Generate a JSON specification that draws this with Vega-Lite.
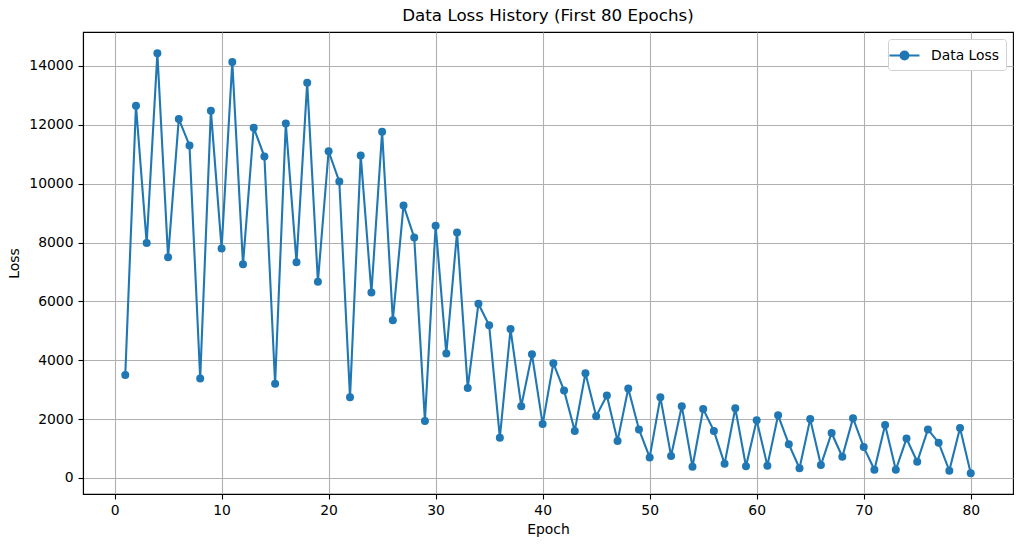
{
  "$schema": "https://vega.github.io/schema/vega-lite/v6.json",
  "width": 930,
  "height": 462,
  "autosize": {"type": "none"},
  "padding": {"left": 83, "top": 32, "right": 10, "bottom": 53},
  "background": "white",
  "config": {
    "font": "DejaVu Sans",
    "view": {"stroke": "black", "strokeWidth": 1.1},
    "axis": {
      "labelFont": "DejaVu Sans", "labelFontSize": 13.9, "labelColor": "black",
      "titleFont": "DejaVu Sans", "titleFontSize": 13.9, "titleFontWeight": "normal", "titleColor": "black",
      "domainColor": "black", "domainWidth": 1.1, "tickColor": "black", "tickSize": 5, "tickWidth": 1.1,
      "gridColor": "#b0b0b0", "gridWidth": 1.1, "gridOpacity": 1
    }
  },
  "title": {"text": "Data Loss History (First 80 Epochs)", "fontSize": 16.7, "fontWeight": "normal", "font": "DejaVu Sans", "color": "black", "offset": 7},
  "data": {"values": [
    {"epoch": 1, "loss": 3500, "series": "Data Loss"},
    {"epoch": 2, "loss": 12650, "series": "Data Loss"},
    {"epoch": 3, "loss": 7980, "series": "Data Loss"},
    {"epoch": 4, "loss": 14430, "series": "Data Loss"},
    {"epoch": 5, "loss": 7500, "series": "Data Loss"},
    {"epoch": 6, "loss": 12200, "series": "Data Loss"},
    {"epoch": 7, "loss": 11300, "series": "Data Loss"},
    {"epoch": 8, "loss": 3380, "series": "Data Loss"},
    {"epoch": 9, "loss": 12480, "series": "Data Loss"},
    {"epoch": 10, "loss": 7800, "series": "Data Loss"},
    {"epoch": 11, "loss": 14130, "series": "Data Loss"},
    {"epoch": 12, "loss": 7260, "series": "Data Loss"},
    {"epoch": 13, "loss": 11900, "series": "Data Loss"},
    {"epoch": 14, "loss": 10920, "series": "Data Loss"},
    {"epoch": 15, "loss": 3200, "series": "Data Loss"},
    {"epoch": 16, "loss": 12040, "series": "Data Loss"},
    {"epoch": 17, "loss": 7330, "series": "Data Loss"},
    {"epoch": 18, "loss": 13430, "series": "Data Loss"},
    {"epoch": 19, "loss": 6670, "series": "Data Loss"},
    {"epoch": 20, "loss": 11100, "series": "Data Loss"},
    {"epoch": 21, "loss": 10070, "series": "Data Loss"},
    {"epoch": 22, "loss": 2740, "series": "Data Loss"},
    {"epoch": 23, "loss": 10960, "series": "Data Loss"},
    {"epoch": 24, "loss": 6300, "series": "Data Loss"},
    {"epoch": 25, "loss": 11760, "series": "Data Loss"},
    {"epoch": 26, "loss": 5360, "series": "Data Loss"},
    {"epoch": 27, "loss": 9260, "series": "Data Loss"},
    {"epoch": 28, "loss": 8170, "series": "Data Loss"},
    {"epoch": 29, "loss": 1940, "series": "Data Loss"},
    {"epoch": 30, "loss": 8570, "series": "Data Loss"},
    {"epoch": 31, "loss": 4230, "series": "Data Loss"},
    {"epoch": 32, "loss": 8340, "series": "Data Loss"},
    {"epoch": 33, "loss": 3060, "series": "Data Loss"},
    {"epoch": 34, "loss": 5920, "series": "Data Loss"},
    {"epoch": 35, "loss": 5190, "series": "Data Loss"},
    {"epoch": 36, "loss": 1370, "series": "Data Loss"},
    {"epoch": 37, "loss": 5060, "series": "Data Loss"},
    {"epoch": 38, "loss": 2440, "series": "Data Loss"},
    {"epoch": 39, "loss": 4200, "series": "Data Loss"},
    {"epoch": 40, "loss": 1830, "series": "Data Loss"},
    {"epoch": 41, "loss": 3900, "series": "Data Loss"},
    {"epoch": 42, "loss": 2970, "series": "Data Loss"},
    {"epoch": 43, "loss": 1600, "series": "Data Loss"},
    {"epoch": 44, "loss": 3560, "series": "Data Loss"},
    {"epoch": 45, "loss": 2100, "series": "Data Loss"},
    {"epoch": 46, "loss": 2800, "series": "Data Loss"},
    {"epoch": 47, "loss": 1260, "series": "Data Loss"},
    {"epoch": 48, "loss": 3040, "series": "Data Loss"},
    {"epoch": 49, "loss": 1650, "series": "Data Loss"},
    {"epoch": 50, "loss": 700, "series": "Data Loss"},
    {"epoch": 51, "loss": 2740, "series": "Data Loss"},
    {"epoch": 52, "loss": 750, "series": "Data Loss"},
    {"epoch": 53, "loss": 2440, "series": "Data Loss"},
    {"epoch": 54, "loss": 380, "series": "Data Loss"},
    {"epoch": 55, "loss": 2340, "series": "Data Loss"},
    {"epoch": 56, "loss": 1600, "series": "Data Loss"},
    {"epoch": 57, "loss": 480, "series": "Data Loss"},
    {"epoch": 58, "loss": 2370, "series": "Data Loss"},
    {"epoch": 59, "loss": 400, "series": "Data Loss"},
    {"epoch": 60, "loss": 1960, "series": "Data Loss"},
    {"epoch": 61, "loss": 420, "series": "Data Loss"},
    {"epoch": 62, "loss": 2130, "series": "Data Loss"},
    {"epoch": 63, "loss": 1150, "series": "Data Loss"},
    {"epoch": 64, "loss": 330, "series": "Data Loss"},
    {"epoch": 65, "loss": 2000, "series": "Data Loss"},
    {"epoch": 66, "loss": 440, "series": "Data Loss"},
    {"epoch": 67, "loss": 1530, "series": "Data Loss"},
    {"epoch": 68, "loss": 720, "series": "Data Loss"},
    {"epoch": 69, "loss": 2030, "series": "Data Loss"},
    {"epoch": 70, "loss": 1050, "series": "Data Loss"},
    {"epoch": 71, "loss": 280, "series": "Data Loss"},
    {"epoch": 72, "loss": 1800, "series": "Data Loss"},
    {"epoch": 73, "loss": 280, "series": "Data Loss"},
    {"epoch": 74, "loss": 1340, "series": "Data Loss"},
    {"epoch": 75, "loss": 550, "series": "Data Loss"},
    {"epoch": 76, "loss": 1650, "series": "Data Loss"},
    {"epoch": 77, "loss": 1200, "series": "Data Loss"},
    {"epoch": 78, "loss": 250, "series": "Data Loss"},
    {"epoch": 79, "loss": 1700, "series": "Data Loss"},
    {"epoch": 80, "loss": 160, "series": "Data Loss"}
  ]},
  "mark": {"type": "line", "strokeWidth": 2.1, "point": {"filled": true, "size": 64, "opacity": 1}},
  "encoding": {
    "x": {
      "field": "epoch", "type": "quantitative", "title": "Epoch",
      "scale": {"domain": [-2.95, 83.95], "nice": false, "zero": false},
      "axis": {"values": [0, 10, 20, 30, 40, 50, 60, 70, 80], "labelPadding": 4, "titlePadding": 6}
    },
    "y": {
      "field": "loss", "type": "quantitative", "title": "Loss",
      "scale": {"domain": [-544, 15152], "nice": false, "zero": false},
      "axis": {"values": [0, 2000, 4000, 6000, 8000, 10000, 12000, 14000], "format": "d", "labelPadding": 5, "titlePadding": 7}
    },
    "color": {
      "field": "series", "type": "nominal", "scale": {"range": ["#1f77b4"]},
      "legend": {
        "title": null, "orient": "top-right", "offset": 7,
        "labelFont": "DejaVu Sans", "labelFontSize": 13.9, "labelColor": "black",
        "symbolType": "M-1.6,0H1.6M-0.42,0A0.42,0.42 0 1,1 0.42,0A0.42,0.42 0 1,1 -0.42,0Z",
        "symbolSize": 350, "symbolStrokeWidth": 2.1, "symbolFillColor": "#1f77b4",
        "fillColor": "white", "strokeColor": "#d0d0d0", "cornerRadius": 3,
        "padding": 6, "labelOffset": 16
      }
    }
  }
}
